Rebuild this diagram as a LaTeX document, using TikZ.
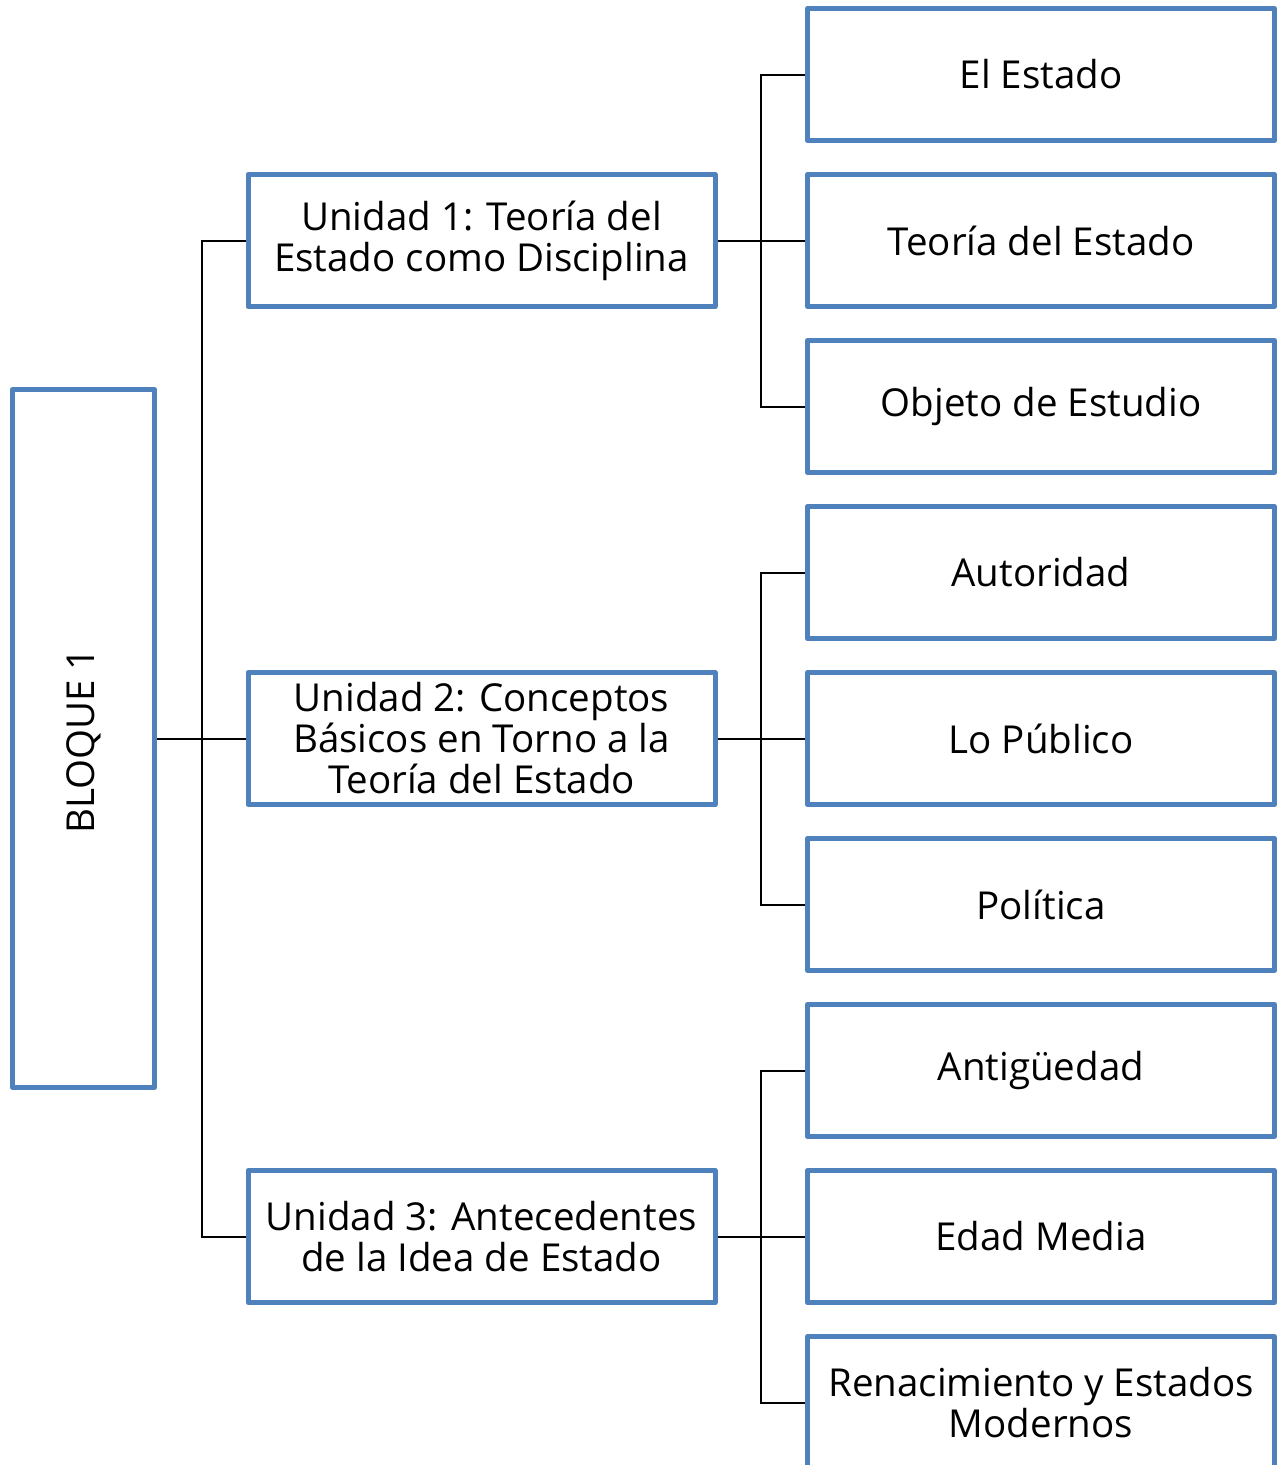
\documentclass[tikz,border=0pt]{standalone}
\usepackage{fontspec}
\setmainfont{Open Sans}
\definecolor{boxblue}{HTML}{4F81BD}
\begin{document}
\begin{tikzpicture}[x=1pt,y=-1pt,
  bx/.style={draw=boxblue,line width=5pt,fill=white,line join=round,align=center,
    font=\fontsize{38.5}{41}\selectfont,inner sep=0pt},
  unitbox/.style={bx,minimum width=467pt,minimum height=132pt},
  leafbox/.style={bx,minimum width=467pt,minimum height=132pt},
  conn/.style={draw=black,line width=2pt}]
\useasboundingbox (0,0) rectangle (1278,1465);
\begin{scope}
\clip (0,0) rectangle (1278,1465);
\coordinate (v1) at (202,0);
\coordinate (v2) at (761,0);
\node[bx,minimum width=142pt,minimum height=698pt] (b) at (83.5,738.5) {};
\node[rotate=90,font=\fontsize{38.5}{41}\selectfont] (bt) at (84,741) {BLOQUE 1};
\node[unitbox] (u1) at (481.5,240.5) {Unidad 1: Teoría del\\Estado como Disciplina};
\node[unitbox] (u2) at (481.5,738.5) {Unidad 2: Conceptos\\Básicos en Torno a la\\Teoría del Estado};
\node[unitbox] (u3) at (481.5,1236.5) {Unidad 3: Antecedentes\\de la Idea de Estado};
\node[leafbox] (l1) at (1041,74.5) {El Estado};
\node[leafbox] (l2) at (1041,240.5) {Teoría del Estado};
\node[leafbox] (l3) at (1041,406.5) {Objeto de Estudio};
\node[leafbox] (l4) at (1041,572.5) {Autoridad};
\node[leafbox] (l5) at (1041,738.5) {Lo Público};
\node[leafbox] (l6) at (1041,904.5) {Política};
\node[leafbox] (l7) at (1041,1070.5) {Antigüedad};
\node[leafbox] (l8) at (1041,1236.5) {Edad Media};
\node[leafbox] (l9) at (1041,1402.5) {Renacimiento y Estados\\Modernos};
\draw[conn] (b.east) -- (u2.west);
\draw[conn] (u1.west) -- (u1.west -| v1) -- (u3.west -| v1) -- (u3.west);
\foreach \u/\a/\bb/\c in {u1/l1/l2/l3,u2/l4/l5/l6,u3/l7/l8/l9}{
  \draw[conn] (\u.east) -- (\bb.west);
  \draw[conn] (\a.west) -- (\a.west -| v2) -- (\c.west -| v2) -- (\c.west);
}
\end{scope}
\end{tikzpicture}
\end{document}
